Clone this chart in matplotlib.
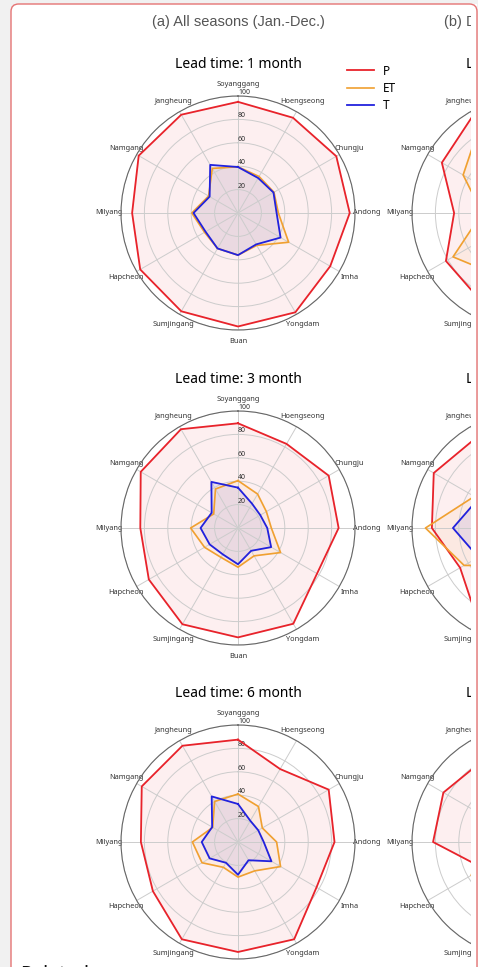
import numpy as np
import matplotlib.pyplot as plt
from matplotlib.patches import FancyBboxPatch, Rectangle

W, H = 478, 967

stations = ["Soyanggang", "Hoengseong", "Chungju", "Andong", "Imha", "Yongdam",
            "Buan", "Sumjingang", "Hapcheon", "Milyang", "Namgang", "Jangheung"]
lead_times = [1, 3, 6]
col_titles = ["(a) All seasons (Jan.-Dec.)", "(b) Dry season (Nov.-Apr.)"]
rticks = [20, 40, 60, 80, 100]

# (a) all seasons, one row per lead time
p_all = [
    [95, 94, 97, 95.5, 91, 98, 97, 97, 96.5, 90.5, 98, 97],
    [89.5, 83, 89.5, 86, 78, 94.5, 93.5, 95, 88, 83.5, 96, 97.5],
    [87.5, 72, 89.5, 82.5, 77.5, 96, 94, 96, 84, 83, 95, 95],
]
et_all = [
    [39.5, 36, 35.5, 34.5, 50, 32, 36, 35, 33, 39.5, 29, 44],
    [40.5, 33.5, 28, 28.5, 42, 27.5, 33.5, 29, 33, 40.5, 24, 38.5],
    [41, 35, 24, 33, 42, 28.5, 30, 25, 35.5, 39, 25, 40],
]
t_all = [
    [39.3, 34.5, 35, 33, 42, 31, 36, 35, 32, 38, 28, 47.5],
    [34.5, 24, 22, 25, 32.7, 22.5, 31, 26, 28, 32, 26, 45.5],
    [32.5, 21, 20, 22, 33, 18, 28, 20.5, 28, 31, 25.5, 45],
]

# (b) dry season, one row per lead time
p_dry = [
    [90, 85, 88, 80, 78, 85, 90, 85, 82, 64, 86, 96],
    [85, 80, 85, 80, 75, 85, 88, 89, 68, 83, 94, 89.5],
    [80, 70, 75, 75, 70, 75, 80, 55, 45, 82, 84.5, 80],
]
et_dry = [
    [60, 55, 50, 45, 55, 60, 55, 60, 75, 40, 65, 85],
    [50, 45, 40, 40, 45, 45, 45, 37, 64, 88.5, 54, 60],
    [45, 40, 40, 40, 45, 45, 45, 45, 57, 40, 40, 45],
]
t_dry = [
    [35, 30, 30, 35, 40, 30, 30, 35, 52, 30, 35, 40],
    [40, 35, 30, 30, 35, 35, 35, 35, 50, 65, 50, 45],
    [30, 30, 28, 30, 32, 30, 30, 30, 35, 32, 30, 35],
]

columns = [(p_all, et_all, t_all), (p_dry, et_dry, t_dry)]
col_x = [238, 529]
row_y = [213, 528, 842]
R = 117

plt.rcParams['font.family'] = ['Noto Sans', 'DejaVu Sans']

fig = plt.figure(figsize=(W / 100, H / 100), dpi=100)
fig.patch.set_facecolor('#f1f1f1')

# white card behind everything
fig.patches.append(FancyBboxPatch((11 / W, -0.05), (477 - 11) / W, 1 + 0.05 - 4 / H,
                                  boxstyle="round,pad=0,rounding_size=0.016",
                                  mutation_aspect=W / H, transform=fig.transFigure,
                                  facecolor='white', edgecolor='none', zorder=-5))


def box(cx, cy, r):
    return [(cx - r) / W, 1 - (cy + r) / H, 2 * r / W, 2 * r / H]


angles = np.linspace(0, 2 * np.pi, len(stations), endpoint=False)
closed = np.append(angles, angles[0])

for c, (p_set, et_set, t_set) in enumerate(columns):
    fig.text(col_x[c] / W, 1 - 22 / H, col_titles[c], ha='center', va='center',
             fontsize=10.5, color='#555555', family=['Liberation Sans'])
    for r, lt in enumerate(lead_times):
        ax = fig.add_axes(box(col_x[c], row_y[r], R), projection='polar')
        ax.set_theta_offset(np.pi / 2)
        ax.set_theta_direction(-1)
        p = np.append(p_set[r], p_set[r][0])
        et = np.append(et_set[r], et_set[r][0])
        t = np.append(t_set[r], t_set[r][0])
        ax.plot(closed, p, color='#e8232b', lw=1.3, label='P')
        ax.fill(closed, p, color='#e8232b', alpha=0.07)
        ax.plot(closed, et, color='#f0a030', lw=1.2, label='ET')
        ax.fill(closed, et, color='#f0a030', alpha=0.07)
        ax.plot(closed, t, color='#2222dd', lw=1.3, label='T')
        ax.fill(closed, t, color='#2222dd', alpha=0.08)
        ax.set_ylim(0, 100)
        ax.set_yticks(rticks)
        ax.set_yticklabels([str(v) for v in rticks], fontsize=5, color='#333333')
        ax.set_rlabel_position(0)
        ax.set_xticks(angles)
        ax.set_xticklabels(stations, fontsize=5.3, color='#333333')
        ax.tick_params(axis='x', pad=-2)
        ax.grid(color='#cccccc', lw=0.7)
        ax.spines['polar'].set_color('#666666')
        ax.spines['polar'].set_linewidth(0.8)
        ax.set_title(f"Lead time: {lt} month", fontsize=10, pad=20)
        if c == 0 and r == 0:
            ax.legend(loc='upper left', bbox_to_anchor=(336 / W, 1 - 54 / H),
                      bbox_transform=fig.transFigure, frameon=False,
                      fontsize=8.5, handlelength=2.3, labelspacing=0.35)

fig.text(20 / W, 1 - 965 / H, "Related", ha='left', va='top',
         fontsize=14, fontweight='bold', color='#111111')

# the card's right margin hides what spills past it
fig.patches.append(Rectangle((471 / W, 0), 6 / W, 1 - 4 / H, transform=fig.transFigure,
                             facecolor='white', edgecolor='none', zorder=10))
fig.patches.append(Rectangle((477 / W, 0), 1 / W, 1, transform=fig.transFigure,
                             facecolor='#f1f1f1', edgecolor='none', zorder=10))
fig.patches.append(FancyBboxPatch((11 / W, -0.05), (477 - 11) / W, 1 + 0.05 - 4 / H,
                                  boxstyle="round,pad=0,rounding_size=0.016",
                                  mutation_aspect=W / H, transform=fig.transFigure,
                                  facecolor='none', edgecolor='#e57373', linewidth=1.0,
                                  zorder=11))

fig.savefig('out.png', dpi=100, facecolor=fig.get_facecolor())
